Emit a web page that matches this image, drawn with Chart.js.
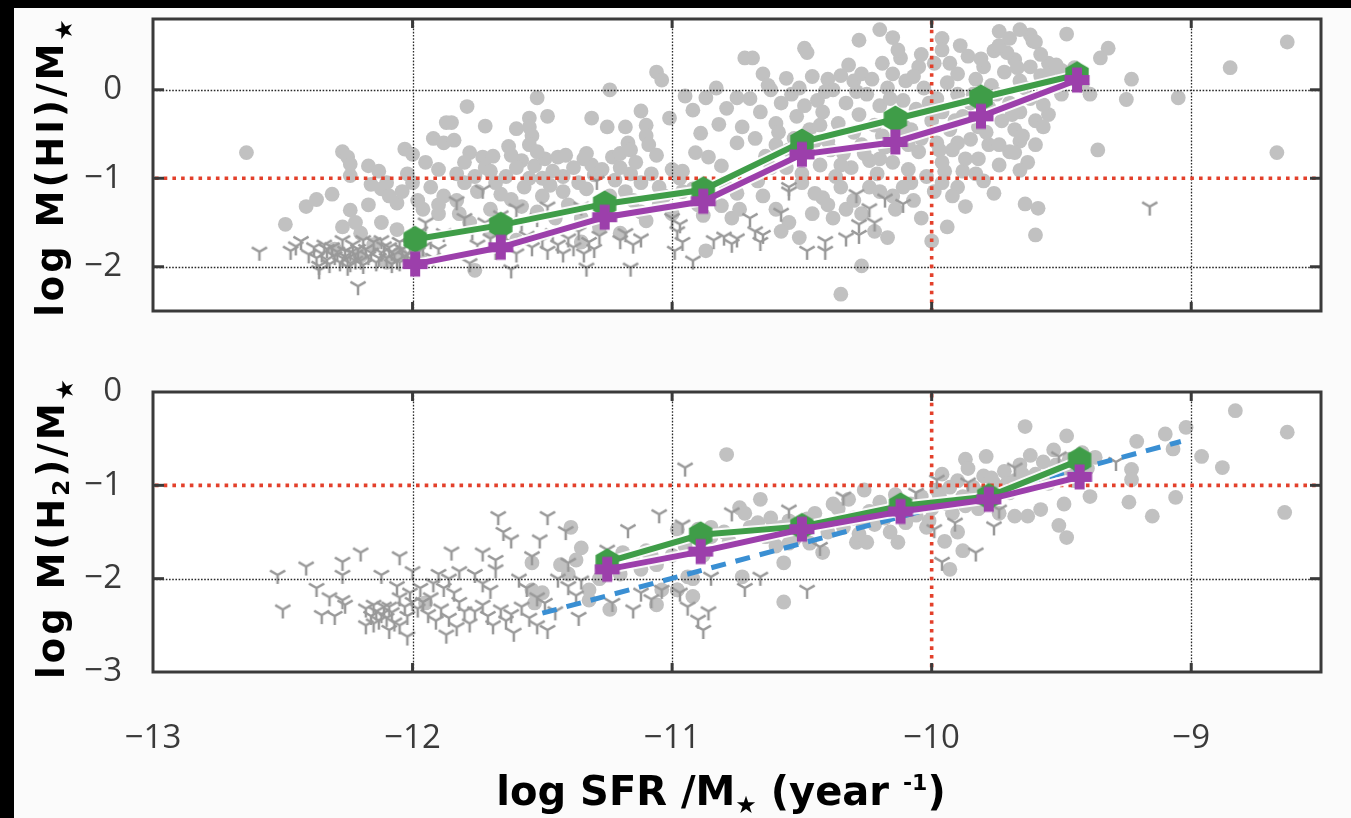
<!DOCTYPE html>
<html>
<head>
<meta charset="utf-8">
<script src="https://cdn.jsdelivr.net/npm/chart.js@4.4.0/dist/chart.umd.min.js"></script>
<style>
html,body{margin:0;padding:0;background:#000;}
#wrap{position:relative;width:1351px;height:818px;background:#000;overflow:hidden;}
#page{position:absolute;left:14px;top:8px;width:1337px;height:810px;background:#fbfbfb;}
canvas{position:absolute;left:0;}
</style>
</head>
<body>
<div id="wrap">
<div id="page"></div>
<canvas id="cHI" width="1351" height="330" style="top:0;width:1351px;height:330px"></canvas>
<canvas id="cH2" width="1351" height="488" style="top:330px;width:1351px;height:488px"></canvas>
</div>
<script>
// ---------------- axes / ticks ----------------
const X_MIN = -13, X_MAX = -8.5;
const HI_MIN = -2.5, HI_MAX = 0.8;
const H2_MIN = -3, H2_MAX = 0;
const xTicks = [-13, -12, -11, -10, -9];
const hiTicks = [-2, -1, 0];
const h2Ticks = [-3, -2, -1, 0];
const REF_X = -10;   // red dotted vertical
const REF_Y = -1;    // red dotted horizontal

// ---------------- binned trends ----------------
const hiBinX   = [-11.99, -11.66, -11.26, -10.88, -10.50, -10.14, -9.81, -9.44];
const hiMean   = [-1.69, -1.53, -1.29, -1.13, -0.59, -0.33, -0.09, 0.17];
const hiMedian = [-1.97, -1.78, -1.44, -1.26, -0.73, -0.59, -0.30, 0.11];

const h2BinX   = [-11.25, -10.89, -10.50, -10.12, -9.78, -9.43];
const h2Mean   = [-1.82, -1.53, -1.44, -1.22, -1.12, -0.73];
const h2Median = [-1.90, -1.71, -1.47, -1.28, -1.15, -0.91];

const fitX = [-11.50, -9.04];
const fitY = [-2.37, -0.53];

// ---------------- HI detections (circles) ----------------
const hiDet = [
[-12.64,-0.71],[-12.49,-1.52],[-12.41,-1.32],[-12.37,-1.24],[-12.31,-1.18],[-12.27,-0.70],[-12.25,-0.76],[-12.24,-0.84],
[-12.24,-0.97],[-12.24,-1.36],[-12.22,-1.50],[-12.17,-0.86],[-12.16,-1.07],[-12.13,-0.92],[-12.17,-1.30],[-12.12,-1.12],
[-12.09,-1.20],[-12.06,-1.28],[-12.10,-1.05],[-12.04,-1.15],[-12.03,-0.67],[-12.00,-0.73],[-12.02,-0.95],[-12.00,-1.05],
[-11.98,-1.25],[-11.92,-0.55],[-11.88,-0.60],[-11.87,-0.37],[-11.95,-0.82],[-11.90,-0.90],[-11.93,-1.10],[-11.88,-1.20],
[-11.96,-1.35],[-11.90,-1.40],[-12.27,-1.55],[-12.20,-1.62],[-12.12,-1.50],[-12.06,-1.58],[-12.15,-1.75],[-12.30,-1.80],
[-12.05,-1.85],[-11.97,-1.90],[-12.10,-1.95],[-12.20,-1.88],
[-11.06,0.20],[-11.04,0.11],[-11.24,0.00],[-11.52,-0.09],[-11.79,-0.19],[-11.85,-0.37],[-11.72,-0.41],[-11.48,-0.30],
[-11.55,-0.32],[-11.55,-0.42],[-11.54,-0.52],[-11.55,-0.62],[-11.60,-0.44],[-11.31,-0.32],[-11.25,-0.42],[-11.18,-0.42],
[-11.12,-0.24],[-11.10,-0.40],[-11.10,-0.52],[-11.01,-0.32],[-11.84,-0.57],[-11.78,-0.71],[-11.73,-0.76],[-11.72,-0.88],
[-11.69,-0.75],[-11.63,-0.64],[-11.62,-0.74],[-11.58,-0.80],[-11.53,-0.86],[-11.49,-0.78],[-11.44,-0.76],[-11.41,-0.74],
[-11.34,-0.78],[-11.31,-0.85],[-11.33,-0.72],[-11.23,-0.76],[-11.20,-0.72],[-11.17,-0.60],[-11.16,-0.68],[-11.09,-0.62],
[-11.06,-0.74],[-11.83,-0.95],[-11.80,-1.05],[-11.76,-0.98],[-11.68,-1.05],[-11.64,-0.98],[-11.57,-1.10],[-11.50,-1.00],
[-11.47,-1.08],[-11.42,-0.98],[-11.36,-1.05],[-11.30,-0.96],[-11.22,-1.02],[-11.16,-0.95],[-11.12,-1.05],[-11.05,-1.10],
[-11.00,-0.90],[-10.97,-1.00],[-10.96,-1.15],[-11.83,-1.25],[-11.82,-1.40],[-11.78,-1.50],[-11.62,-1.24],[-11.58,-1.32],
[-11.50,-1.20],[-11.40,-1.30],[-11.18,-1.15],[-11.15,-1.25],[-11.12,-1.38],[-11.10,-1.48],[-11.05,-1.30],[-11.76,-2.04],
[-10.87,-1.82],[-10.90,-1.30],[-10.88,-1.42],[-10.92,-1.12],[-11.28,-1.55],[-11.45,-1.45],[-11.70,-1.60],[-11.60,-1.70],
[-11.35,-1.72],[-11.20,-1.62],
[-11.80,-0.82],[-11.75,-1.15],[-11.70,-0.92],[-11.66,-1.18],[-11.60,-0.88],[-11.55,-1.00],[-11.52,-0.70],[-11.46,-0.92],
[-11.42,-1.15],[-11.38,-0.88],[-11.33,-1.12],[-11.27,-0.90],[-11.24,-1.20],[-11.20,-0.88],[-11.14,-0.82],[-11.08,-0.95],
[-11.03,-1.20],[-11.00,-1.40],[-11.90,-1.30],[-11.70,-1.35],[-11.52,-1.38],[-11.35,-1.45],
[-10.95,-0.07],[-10.92,-0.23],[-10.87,-0.09],[-10.83,0.02],[-10.79,-0.21],[-10.75,-0.09],[-10.72,0.36],[-10.89,-0.49],
[-10.82,-0.39],[-10.91,-0.71],[-10.86,-0.76],[-10.81,-0.86],[-10.75,-0.60],[-10.73,-0.42],[-10.96,-0.92],[-10.79,-1.10],
[-10.75,-1.17],[-10.86,-1.17],[-10.81,-1.31],[-10.77,-1.45],[-10.74,-1.35],
[-10.49,0.47],[-10.48,0.42],[-10.20,0.68],[-10.15,0.59],[-10.28,0.56],[-9.96,0.58],[-9.74,0.66],[-9.62,0.62],
[-9.60,0.54],[-10.65,0.18],[-10.69,0.36],[-10.56,0.13],[-10.46,0.15],[-10.40,0.12],[-10.35,0.16],[-10.30,0.10],
[-10.27,0.18],[-10.19,0.30],[-10.15,0.18],[-10.12,0.36],[-10.10,0.10],[-10.05,0.26],[-10.04,0.40],[-9.96,0.45],
[-9.93,0.30],[-9.90,0.18],[-9.86,0.38],[-9.83,0.12],[-9.80,0.26],[-9.76,0.44],[-9.72,0.20],[-9.68,0.34],
[-9.66,0.10],[-9.62,0.26],[-9.58,0.16],[-9.55,0.30],[-9.50,0.22],
[-10.70,-0.10],[-10.66,-0.25],[-10.62,0.00],[-10.60,-0.38],[-10.58,-0.15],[-10.54,-0.05],[-10.52,-0.30],[-10.47,-0.45],
[-10.44,-0.12],[-10.42,-0.25],[-10.38,0.00],[-10.36,-0.38],[-10.33,-0.15],[-10.30,-0.48],[-10.28,-0.28],[-10.25,-0.05],
[-10.22,-0.40],[-10.20,-0.18],[-10.17,0.02],[-10.14,-0.30],[-10.11,-0.12],[-10.08,-0.45],[-10.06,-0.22],[-10.03,0.02],
[-10.00,-0.35],[-9.98,-0.10],[-9.96,-0.25],[-9.93,-0.45],[-9.90,-0.05],[-9.88,-0.30],[-9.85,-0.15],[-9.82,-0.42],
[-9.78,-0.20],[-9.75,-0.05],[-9.73,-0.35],[-9.70,-0.15],[-9.68,-0.45],[-9.66,-0.25],[-9.64,0.02],[-9.60,-0.35],
[-10.68,-0.55],[-10.64,-0.75],[-10.60,-0.62],[-10.56,-0.88],[-10.53,-0.55],[-10.50,-0.95],[-10.47,-0.70],[-10.43,-0.85],
[-10.40,-0.58],[-10.37,-0.98],[-10.34,-0.72],[-10.31,-0.88],[-10.27,-0.62],[-10.24,-0.80],[-10.21,-0.95],[-10.18,-0.65],
[-10.15,-0.82],[-10.12,-0.55],[-10.09,-0.90],[-10.05,-0.70],[-10.02,-0.98],[-9.98,-0.60],[-9.96,-0.82],[-9.92,-0.68],
[-9.88,-0.92],[-9.85,-0.56],[-9.82,-0.78],[-9.78,-0.62],[-9.74,-0.85],[-9.70,-0.70],[-9.66,-0.58],[-9.63,-0.82],
[-10.63,0.05],[-10.59,-0.48],[-10.51,0.02],[-10.45,-0.58],[-10.41,-0.02],[-10.39,-0.68],[-10.32,0.28],[-10.26,-0.72],
[-10.23,0.12],[-10.19,-0.52],[-10.16,-0.10],[-10.13,0.45],[-10.09,-0.62],[-10.07,0.15],[-10.01,-0.15],[-9.99,0.30],
[-9.97,-0.68],[-9.94,0.08],[-9.91,-0.35],[-9.89,0.50],[-9.87,-0.78],[-9.84,-0.05],[-9.81,0.35],[-9.79,-0.48],
[-9.77,0.05],[-9.74,-0.62],[-9.71,0.42],[-9.69,-0.28],[-9.67,0.25],[-9.65,-0.52],[-9.62,-0.10],[-9.58,0.40],
[-10.55,-0.68],[-10.49,-0.18],[-10.43,-0.40],[-10.35,-0.85],[-10.29,-0.02],[-10.20,-0.78],[-10.11,-0.40],[-10.04,-0.55],
[-9.95,-0.92],[-9.90,-0.60],[-10.62,-0.88],[-10.50,-1.05],[-10.42,-1.22],[-10.33,-1.35],[-10.24,-1.10],[-10.15,-1.20],
[-10.08,-1.05],[-9.99,-1.15],[-9.90,-1.10],[-9.83,-0.95],
[-10.67,-1.03],[-10.65,-1.20],[-10.60,-1.35],[-10.55,-1.50],[-10.51,-1.67],[-10.58,-1.60],[-10.45,-1.17],[-10.40,-1.30],
[-10.38,-1.45],[-10.35,-1.10],[-10.30,-1.25],[-10.27,-1.40],[-10.22,-1.60],[-10.20,-1.15],[-10.17,-1.67],[-10.14,-1.35],
[-10.11,-1.10],[-10.07,-1.25],[-10.04,-1.45],[-10.00,-1.71],[-9.94,-1.55],[-9.96,-1.05],[-9.92,-1.20],[-9.87,-1.32],
[-9.80,-1.03],[-9.76,-1.17],[-9.64,-1.29],[-9.59,-1.34],[-9.60,-1.64],[-10.27,-1.99],[-10.35,-2.31],[-10.46,-1.40],
[-9.74,0.50],[-9.70,0.58],[-9.66,0.68],[-9.61,0.55],[-9.48,0.63],[-9.32,0.47],[-9.35,0.36],[-9.23,0.12],
[-9.39,-0.05],[-9.25,-0.11],[-9.05,-0.09],[-8.85,0.25],[-8.63,0.54],[-8.67,-0.71],[-9.36,-0.68],[-9.57,-0.42],
[-9.55,-0.28],[-9.57,-0.17],[-9.60,-0.62],[-9.68,-0.71],[-9.66,-0.91],[-9.55,0.18],[-9.52,0.28],[-9.45,0.25],
[-9.42,0.05],[-9.50,-0.05],[-9.47,0.12],[-9.53,0.05]
];

// ---------------- HI upper limits (Y markers) ----------------
const hiUpper = [
[-12.59,-1.83],[-12.47,-1.82],[-12.45,-1.77],[-12.43,-1.71],[-12.36,-1.99],[-12.36,-2.04],[-12.21,-2.22],[-12.25,-2.00],
[-12.35,-1.85],[-12.33,-1.92],[-12.31,-1.78],[-12.30,-1.88],[-12.28,-1.95],[-12.26,-1.82],[-12.25,-1.90],[-12.23,-1.75],
[-12.22,-1.86],[-12.20,-1.93],[-12.18,-1.80],[-12.17,-1.88],[-12.15,-1.72],[-12.14,-1.95],[-12.12,-1.84],[-12.10,-1.90],
[-12.09,-1.78],[-12.07,-1.86],[-12.06,-1.93],[-12.04,-1.80],[-12.03,-1.88],[-12.01,-1.75],[-12.00,-1.92],[-11.98,-1.83],
[-12.33,-1.80],[-12.27,-1.70],[-12.19,-1.98],[-12.12,-1.70],[-12.24,-1.84],[-12.08,-1.97],
[-12.37,-1.90],[-12.34,-1.75],[-12.32,-1.97],[-12.29,-1.83],[-12.27,-1.90],[-12.24,-1.96],[-12.21,-1.80],[-12.19,-1.70],
[-12.16,-1.84],[-12.13,-1.90],[-12.11,-1.77],[-12.08,-1.83],[-12.05,-1.72],[-12.02,-1.85],[-12.00,-1.68],[-12.40,-1.86],
[-12.38,-1.78],[-12.22,-1.93],[-12.05,-1.95],[-11.96,-1.78],
[-11.97,-1.60],[-11.95,-1.50],[-11.93,-1.70],[-11.90,-1.80],[-11.88,-1.62],[-11.92,-1.90],
[-11.78,-1.96],[-11.62,-2.03],[-11.33,-2.01],[-11.16,-2.01],[-10.92,-1.93],[-10.99,-1.82],[-11.73,-1.13],[-11.83,-1.26],
[-11.60,-1.34],[-11.48,-1.32],[-11.29,-1.03],[-11.35,-1.32],
[-11.80,-1.45],[-11.77,-1.60],[-11.75,-1.75],[-11.72,-1.50],[-11.70,-1.68],[-11.68,-1.82],[-11.66,-1.42],[-11.64,-1.58],
[-11.62,-1.72],[-11.60,-1.85],[-11.58,-1.50],[-11.56,-1.65],[-11.54,-1.78],[-11.52,-1.45],[-11.50,-1.70],[-11.48,-1.82],
[-11.46,-1.62],[-11.44,-1.75],[-11.42,-1.85],[-11.40,-1.68],[-11.38,-1.78],[-11.36,-1.60],[-11.34,-1.85],[-11.32,-1.72],
[-11.30,-1.80],[-11.28,-1.65],[-11.20,-1.70],[-11.18,-1.62],[-11.15,-1.75],[-11.12,-1.68],[-11.00,-1.45],[-10.98,-1.60],
[-10.96,-1.72],[-10.97,-1.52],[-10.84,-1.70],[-10.80,-1.66],[-10.77,-1.74],[-10.75,-1.68],
[-10.70,-1.45],[-10.68,-1.60],[-10.66,-1.72],[-10.55,-1.10],[-10.55,-1.15],[-10.58,-1.39],[-10.48,-1.82],[-10.41,-1.71],
[-10.41,-1.82],[-10.33,-1.67],[-10.28,-1.64],[-10.29,-1.18],[-10.24,-1.34],[-10.28,-1.52],[-10.22,-1.50],[-10.18,-1.23],
[-10.11,-1.29],[-10.65,-1.64],[-9.16,-1.32]
];

// ---------------- H2 detections (circles) ----------------
const h2Det = [
[-11.39,-1.45],[-11.35,-1.67],[-11.54,-1.83],[-11.54,-2.12],[-11.50,-2.15],[-11.53,-2.26],[-11.43,-1.85],[-11.40,-1.95],
[-11.37,-1.80],[-11.32,-2.12],[-11.32,-2.23],[-11.24,-2.33],[-11.19,-1.72],[-11.15,-1.80],[-11.12,-1.90],[-11.08,-1.75],
[-11.06,-1.85],[-11.06,-2.28],[-10.98,-1.47],[-11.04,-2.12],[-10.98,-2.12],[-11.95,-2.26],
[-10.79,-0.67],[-9.64,-0.37],[-9.48,-0.47],[-9.21,-0.53],[-9.10,-0.45],[-9.07,-0.61],[-9.02,-0.38],[-8.83,-0.20],
[-8.63,-0.43],[-8.96,-0.69],[-8.88,-0.81],[-8.64,-1.29],[-9.06,-1.13],[-9.15,-1.33],[-9.24,-1.18],[-9.23,-0.83],
[-9.23,-0.94],[-9.39,-1.12],[-9.49,-1.20],[-9.51,-1.43],[-9.48,-1.56],[-9.58,-1.26],[-9.68,-1.33],[-9.63,-1.33],
[-9.87,-0.72],[-9.79,-0.69],[-10.57,-2.25],[-9.93,-1.90],[-10.29,-1.61],[-10.25,-1.61],[-10.13,-1.61],[-10.42,-1.72],
[-10.57,-1.83],[-10.73,-1.98],[-10.66,-1.15],[-10.74,-1.24],[-10.90,-1.47],[-10.85,-1.55],[-10.80,-1.50],[-10.94,-1.98],
[-10.98,-2.12],[-10.92,-2.19],[-10.72,-1.30],[-10.70,-1.45],[-10.92,-2.00],
[-10.67,-1.40],[-10.64,-1.55],[-10.62,-1.35],[-10.60,-1.65],[-10.58,-1.45],[-10.55,-1.38],[-10.53,-1.58],[-10.50,-1.48],
[-10.48,-1.36],[-10.47,-1.62],
[-10.36,-1.25],[-10.34,-1.45],[-10.32,-1.15],[-10.30,-1.35],[-10.28,-1.52],[-10.26,-1.05],[-10.24,-1.28],[-10.22,-1.42],
[-10.20,-1.18],[-10.18,-1.35],[-10.16,-1.50],[-10.14,-1.10],[-10.12,-1.25],[-10.10,-1.40],[-10.08,-1.20],[-10.06,-1.32],
[-10.04,-1.12],[-10.02,-1.45],[-10.00,-1.25],[-10.01,-1.38],
[-9.98,-1.05],[-9.96,-0.88],[-9.94,-1.20],[-9.92,-1.30],[-9.90,-0.95],[-9.88,-1.12],[-9.86,-0.82],[-9.84,-1.02],
[-9.82,-1.25],[-9.80,-0.90],[-9.78,-1.15],[-9.76,-0.98],[-9.74,-1.30],[-9.72,-0.85],[-9.70,-1.08],[-9.95,-1.60],
[-9.90,-1.50],[-9.88,-1.70],
[-9.68,-0.95],[-9.66,-0.78],[-9.64,-1.02],[-9.62,-0.68],[-9.60,-0.88],[-9.57,-0.75],[-9.55,-0.98],[-9.53,-0.62],
[-9.50,-0.85],[-9.47,-0.72],[-9.45,-0.95],[-9.42,-0.65],[-9.40,-0.82],[-9.37,-0.70],
[-10.45,-1.30],[-10.40,-1.50],[-10.38,-1.20],[-10.27,-1.38],[-10.19,-1.28],[-10.11,-1.32],[-10.05,-1.22],[-9.97,-1.12],
[-9.93,-1.02],[-9.87,-1.22],[-9.81,-1.08],[-9.77,-0.92],[-9.71,-0.98],[-9.65,-0.88],[-9.59,-0.95],[-9.52,-0.78],
[-9.46,-0.85],[-9.41,-0.75],[-10.62,-1.48],[-10.55,-1.62],[-10.85,-1.45],[-10.78,-1.60],[-10.95,-1.65],[-10.88,-1.75],
[-11.00,-1.75],[-11.10,-1.70],[-11.20,-1.95],[-11.28,-2.00]
];

// ---------------- H2 upper limits (Y markers) ----------------
const h2Upper = [
[-12.52,-1.96],[-12.41,-1.87],[-12.50,-2.33],[-12.37,-2.10],[-12.32,-2.20],[-12.27,-1.82],[-12.27,-1.96],[-12.27,-2.23],
[-12.26,-2.28],[-12.35,-2.39],[-12.30,-2.40],[-12.20,-1.72],[-12.05,-1.76],[-12.12,-1.96],
[-12.18,-2.32],[-12.16,-2.40],[-12.14,-2.35],[-12.13,-2.45],[-12.11,-2.30],[-12.10,-2.42],[-12.08,-2.36],[-12.07,-2.47],
[-12.18,-2.50],[-12.09,-2.55],[-12.15,-2.28],[-12.12,-2.38],[-12.09,-2.30],[-12.15,-2.48],[-12.05,-2.50],
[-12.06,-2.08],[-12.05,-2.20],[-12.03,-2.30],[-12.02,-2.40],[-12.01,-2.15],[-12.00,-2.25],[-12.02,-2.62],[-12.00,-1.92],
[-11.98,-2.32],[-11.93,-2.20],[-11.82,-2.25],[-11.76,-2.35],[-11.58,-2.30],[-11.45,-2.35],
[-11.97,-2.10],[-11.96,-2.25],[-11.94,-2.38],[-11.92,-2.05],[-11.91,-2.45],[-11.90,-1.95],[-11.88,-2.10],[-11.86,-2.00],
[-11.84,-2.15],[-11.82,-1.92],[-11.85,-1.71],[-11.89,-2.32],[-11.86,-2.42],[-11.83,-2.52],[-11.80,-2.35],[-11.78,-2.48],
[-11.87,-2.60],
[-11.73,-1.72],[-11.68,-1.80],[-11.68,-1.90],[-11.76,-1.95],[-11.73,-2.05],[-11.70,-2.12],[-11.73,-2.28],[-11.71,-2.40],
[-11.69,-2.50],[-11.66,-2.33],[-11.64,-2.45],[-11.62,-2.38],[-11.61,-2.58],[-11.67,-1.33],[-11.65,-1.50],[-11.62,-1.58],
[-11.51,-1.58],[-11.48,-1.33],[-11.54,-1.76],[-11.59,-2.00],[-11.56,-2.10],[-11.52,-2.20],[-11.49,-2.26],[-11.55,-2.42],
[-11.52,-2.50],[-11.48,-2.55],[-11.41,-1.49],[-11.40,-1.83],[-11.44,-2.00],[-11.40,-2.08],[-11.37,-2.18],[-11.35,-2.02],
[-11.36,-2.41],[-11.25,-1.69],[-11.17,-1.47],[-11.05,-1.31],[-11.23,-2.26],[-11.15,-2.33],[-11.12,-2.15],[-11.08,-2.22],
[-11.04,-2.12],
[-10.95,-0.81],[-10.77,-1.29],[-10.96,-1.42],[-10.85,-1.98],[-10.72,-2.10],[-10.66,-1.98],[-10.48,-2.12],[-10.43,-1.66],
[-10.55,-1.26],[-10.34,-1.12],[-10.97,-2.15],[-10.94,-2.30],[-10.90,-2.44],[-10.88,-2.55],[-10.86,-2.35],[-9.98,-0.94],
[-9.86,-0.97],[-9.96,-1.82],[-9.83,-1.72],[-9.91,-1.40],[-9.74,-1.26],[-9.76,-1.44],[-9.68,-0.81],[-9.51,-0.69],
[-9.29,-0.75],[-9.99,-1.47],[-10.06,-1.08]
];

// ---------------- styling ----------------
const GRAY_DOT = '#c1c1c1';
const GRAY_TRI = '#999999';
const GREEN = '#3f9d48';
const PURPLE = '#9c3fab';
const BLUE = '#3a8fd3';
const RED = '#e3402b';
const TICK_FONT = {family: '"Open Sans", "Liberation Sans", sans-serif', size: 33};
const TITLE_FAM = '"DejaVu Sans", "Liberation Sans", sans-serif';

const fmt = v => (v < 0 ? '\u2212' + Math.abs(v) : String(v));
const pairs = arr => arr.map(p => ({x: p[0], y: p[1]}));
const zip = (xs, ys) => xs.map((x, i) => ({x: x, y: ys[i]}));

function makeImg(w, h, draw) {
  const c = document.createElement('canvas');
  c.width = w; c.height = h;
  draw(c.getContext('2d'));
  return c;
}
const triImg = makeImg(22, 22, g => {
  g.strokeStyle = GRAY_TRI; g.lineWidth = 2.5;
  g.beginPath();
  g.moveTo(11, 11); g.lineTo(11, 20);
  g.moveTo(11, 11); g.lineTo(3.4, 6.6);
  g.moveTo(11, 11); g.lineTo(18.6, 6.6);
  g.stroke();
});
const hexImg = makeImg(30, 30, g => {
  g.fillStyle = GREEN; g.beginPath();
  for (let i = 0; i < 6; i++) {
    const a = -Math.PI / 2 + i * Math.PI / 3;
    const px = 15 + 13.5 * Math.cos(a), py = 15 + 13.5 * Math.sin(a);
    if (i === 0) g.moveTo(px, py); else g.lineTo(px, py);
  }
  g.closePath(); g.fill();
});
const plusImg = makeImg(28, 28, g => {
  g.fillStyle = PURPLE;
  g.fillRect(9, 1.5, 10, 25);
  g.fillRect(1.5, 9, 25, 10);
});

// ---------------- decoration plugin ----------------
function strokeLine(ctx, x1, y1, x2, y2) {
  ctx.beginPath(); ctx.moveTo(x1, y1); ctx.lineTo(x2, y2); ctx.stroke();
}
function drawRich(ctx, parts, x, y, rot, spacing) {
  ctx.save();
  ctx.translate(x, y);
  if (rot) ctx.rotate(rot);
  ctx.fillStyle = '#000';
  ctx.textBaseline = 'alphabetic';
  ctx.textAlign = 'left';
  const sp = spacing || 0;
  const glyphs = [];
  for (const p of parts) {
    ctx.font = p.font;
    for (const ch of p.t) glyphs.push({ch: ch, font: p.font, dy: p.dy || 0, w: ctx.measureText(ch).width});
  }
  let total = 0;
  glyphs.forEach((g, i) => { total += g.w + (i < glyphs.length - 1 ? sp : 0); });
  let cx = -total / 2;
  for (const g of glyphs) {
    ctx.font = g.font;
    ctx.fillText(g.ch, cx, g.dy);
    cx += g.w + sp;
  }
  ctx.restore();
}
const decor = {
  id: 'panelDecor',
  beforeDraw(chart) {
    const {ctx, chartArea: a} = chart;
    ctx.save(); ctx.fillStyle = '#ffffff';
    ctx.fillRect(a.left, a.top, a.right - a.left, a.bottom - a.top);
    ctx.restore();
  },
  afterDatasetDraw(chart, args, o) {
    if (!chart.data.datasets[args.index].gridAfter) return;
    const {ctx, chartArea: a, scales: {x, y}} = chart;
    ctx.save();
    ctx.strokeStyle = '#2a2a2a'; ctx.lineWidth = 1.3; ctx.setLineDash([1.6, 1.6]);
    for (const v of xTicks) {
      if (v <= X_MIN || v >= X_MAX || v === REF_X) continue;
      const px = Math.round(x.getPixelForValue(v)) + 0.5;
      strokeLine(ctx, px, a.top, px, a.bottom);
    }
    for (const v of o.yTicks) {
      if (v <= y.min || v >= y.max || v === REF_Y) continue;
      const py = Math.round(y.getPixelForValue(v)) + 0.5;
      strokeLine(ctx, a.left, py, a.right, py);
    }
    ctx.strokeStyle = RED; ctx.lineWidth = 3.6; ctx.setLineDash([3.6, 5.1]);
    const rx = x.getPixelForValue(REF_X), ry = y.getPixelForValue(REF_Y);
    strokeLine(ctx, rx, a.top + 2, rx, a.bottom);
    strokeLine(ctx, a.left + 2, ry, a.right, ry);
    ctx.restore();
  },
  afterDraw(chart, args, o) {
    const {ctx, chartArea: a, scales: {x, y}} = chart;
    ctx.save();
    ctx.strokeStyle = '#3a3a3a'; ctx.lineWidth = 3;
    ctx.setLineDash([]);
    ctx.strokeRect(a.left, a.top, a.right - a.left, a.bottom - a.top);
    for (const v of xTicks) {
      if (v <= X_MIN || v >= X_MAX) continue;
      const px = x.getPixelForValue(v);
      strokeLine(ctx, px, a.top, px, a.top + 9);
      strokeLine(ctx, px, a.bottom - 9, px, a.bottom);
    }
    for (const v of o.yTicks) {
      if (v <= y.min || v >= y.max) continue;
      const py = y.getPixelForValue(v);
      strokeLine(ctx, a.left, py, a.left + 11, py);
      strokeLine(ctx, a.right - 11, py, a.right, py);
    }
    ctx.restore();
    for (const t of o.titles) drawRich(ctx, t.parts, t.x, t.y, t.rot, t.spacing);
  }
};

function lineSets(bx, mean, median) {
  return [
    {label: 'median', data: zip(bx, median), showLine: true, borderColor: PURPLE, borderWidth: 6,
     pointStyle: plusImg, pointRadius: 13, order: 1},
    {label: 'mean', data: zip(bx, mean), showLine: true, borderColor: GREEN, borderWidth: 6,
     pointStyle: hexImg, pointRadius: 13, order: 2},
    {label: 'median halo', data: zip(bx, median), showLine: true, borderColor: 'rgba(255,255,255,0.9)',
     borderWidth: 10, pointRadius: 0, order: 4},
    {label: 'mean halo', data: zip(bx, mean), showLine: true, borderColor: 'rgba(255,255,255,0.9)',
     borderWidth: 10, pointRadius: 0, order: 5}
  ];
}
function scatterSets(det, upper) {
  return [
    {label: 'upper limits', data: pairs(upper), pointStyle: triImg, pointRadius: 9, order: 7, gridAfter: true},
    {label: 'detections', data: pairs(det), pointStyle: 'circle', pointRadius: 7.4,
     pointBackgroundColor: GRAY_DOT, pointBorderWidth: 0, order: 8}
  ];
}
function yScale(min, max, ticks) {
  return {
    type: 'linear', min: min, max: max,
    afterBuildTicks: s => { s.ticks = ticks.map(v => ({value: v})); },
    afterFit: s => { s.width = 153; s.paddingTop = 0; s.paddingBottom = 0; },
    grid: {display: false, drawTicks: false},
    border: {display: false},
    ticks: {font: TICK_FONT, color: '#3a3a3a', padding: 31, autoSkip: false, callback: v => fmt(v)}
  };
}
const common = {
  responsive: false, animation: false, events: [],
  plugins: {legend: {display: false}, tooltip: {enabled: false}}
};

// ---------------- top panel: HI ----------------
new Chart(document.getElementById('cHI'), {
  type: 'scatter',
  data: {datasets: [...lineSets(hiBinX, hiMean, hiMedian), ...scatterSets(hiDet, hiUpper)]},
  options: Object.assign({}, common, {
    layout: {padding: {left: 0, right: 30, top: 12, bottom: 10}},
    plugins: Object.assign({}, common.plugins, {
      panelDecor: {
        yTicks: hiTicks,
        titles: [{x: 63, y: 168, rot: -Math.PI / 2, spacing: 3, parts: [
          {t: 'log M(HI)/M', font: 'bold 37px ' + TITLE_FAM},
          {t: '\u2605', font: 'bold 24px ' + TITLE_FAM, dy: 9}
        ]}]
      }
    }),
    scales: {
      x: {type: 'linear', min: X_MIN, max: X_MAX, display: false,
          afterBuildTicks: s => { s.ticks = xTicks.map(v => ({value: v})); }},
      y: yScale(HI_MIN, HI_MAX, hiTicks)
    }
  }),
  plugins: [decor]
});

// ---------------- bottom panel: H2 ----------------
new Chart(document.getElementById('cH2'), {
  type: 'scatter',
  data: {datasets: [
    ...lineSets(h2BinX, h2Mean, h2Median),
    {label: 'fit', data: zip(fitX, fitY), showLine: true, borderColor: BLUE, borderWidth: 5,
     borderDash: [15, 10], pointRadius: 0, order: 6},
    ...scatterSets(h2Det, h2Upper)
  ]},
  options: Object.assign({}, common, {
    layout: {padding: {left: 0, right: 30, top: 62, bottom: 0}},
    plugins: Object.assign({}, common.plugins, {
      panelDecor: {
        yTicks: h2Ticks,
        titles: [
          {x: 64, y: 199, rot: -Math.PI / 2, spacing: 3, parts: [
            {t: 'log M(H', font: 'bold 37px ' + TITLE_FAM},
            {t: '2', font: 'bold 23px ' + TITLE_FAM, dy: 5},
            {t: ')/M', font: 'bold 37px ' + TITLE_FAM},
            {t: '\u2605', font: 'bold 24px ' + TITLE_FAM, dy: 9}
          ]},
          {x: 721, y: 475, rot: 0, spacing: 0, parts: [
            {t: 'log SFR /M', font: 'bold 40px ' + TITLE_FAM},
            {t: '\u2605', font: 'bold 24px ' + TITLE_FAM, dy: 8},
            {t: ' (year ', font: 'bold 40px ' + TITLE_FAM},
            {t: '-1', font: 'bold 22px ' + TITLE_FAM, dy: -15},
            {t: ')', font: 'bold 40px ' + TITLE_FAM}
          ]}
        ]
      }
    }),
    scales: {
      x: {type: 'linear', min: X_MIN, max: X_MAX, position: 'bottom',
          afterBuildTicks: s => { s.ticks = xTicks.map(v => ({value: v})); },
          afterFit: s => { s.height = 146; },
          grid: {display: false, drawTicks: false},
          border: {display: false},
          ticks: {font: TICK_FONT, color: '#3a3a3a', padding: 47, autoSkip: false, maxRotation: 0,
                  callback: v => fmt(v)}},
      y: yScale(H2_MIN, H2_MAX, h2Ticks)
    }
  }),
  plugins: [decor]
});
</script>
</body>
</html>
